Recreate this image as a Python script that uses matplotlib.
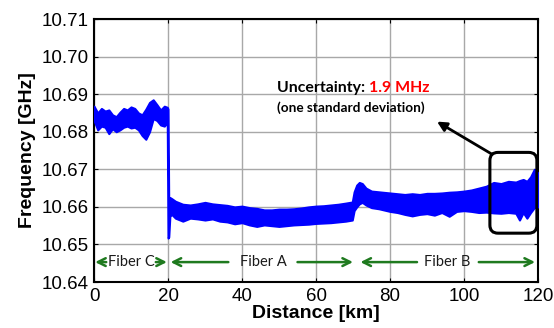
import matplotlib.pyplot as plt
from matplotlib.patches import FancyBboxPatch

km = [0, 1, 2, 3, 4, 5, 6, 7, 8, 9, 10, 11, 12, 13, 14, 15, 16, 17, 18, 19, 19.8,
      20.0, 20.2, 20.5, 21, 22, 24, 26, 28, 30, 32, 34, 36, 38, 40, 42, 44, 46, 48,
      50, 52, 54, 56, 58, 60, 62, 64, 66, 68, 69.8, 70.3, 71, 71.7, 72.5, 73.5, 75,
      77, 80, 82, 84, 86, 88, 90, 92, 94, 96, 98, 100, 102, 104, 106, 108, 110, 112,
      114, 115, 116, 117, 118, 119, 120]
upper = [10.6868, 10.6850, 10.6862, 10.6855, 10.6858, 10.6845, 10.6840, 10.6852,
         10.6862, 10.6858, 10.6866, 10.6862, 10.6850, 10.6845, 10.6860, 10.6878,
         10.6885, 10.6872, 10.6858, 10.6868, 10.6865,
         10.6860, 10.6600, 10.6625, 10.6622, 10.6615, 10.6607, 10.6605, 10.6608,
         10.6612, 10.6608, 10.6606, 10.6604, 10.6600, 10.6602, 10.6598, 10.6596,
         10.6592, 10.6592, 10.6594, 10.6594, 10.6595, 10.6597, 10.6600, 10.6602,
         10.6603, 10.6605, 10.6607, 10.6610, 10.6613, 10.6640, 10.6658, 10.6665,
         10.6662, 10.6650, 10.6642, 10.6640, 10.6637, 10.6635, 10.6633, 10.6635,
         10.6633, 10.6636, 10.6636, 10.6637, 10.6639, 10.6640, 10.6642, 10.6645,
         10.6650, 10.6655, 10.6665, 10.6662, 10.6668, 10.6666, 10.6670, 10.6673,
         10.6668, 10.6680, 10.6700, 10.6690]
lower = [10.6830, 10.6805, 10.6815, 10.6812, 10.6795, 10.6808, 10.6800, 10.6805,
         10.6812, 10.6815, 10.6810, 10.6812, 10.6805, 10.6790, 10.6780, 10.6800,
         10.6835, 10.6830, 10.6818, 10.6815, 10.6825,
         10.6517, 10.6520, 10.6575, 10.6580, 10.6570, 10.6562, 10.6570, 10.6568,
         10.6565, 10.6568, 10.6562, 10.6560, 10.6555, 10.6558, 10.6552, 10.6548,
         10.6552, 10.6550, 10.6548, 10.6550, 10.6552, 10.6553, 10.6554, 10.6556,
         10.6557, 10.6558, 10.6560, 10.6562, 10.6565, 10.6590, 10.6600, 10.6608,
         10.6612, 10.6605, 10.6598, 10.6595, 10.6588, 10.6585, 10.6580, 10.6576,
         10.6580, 10.6582, 10.6578, 10.6585, 10.6575, 10.6588, 10.6590, 10.6588,
         10.6585, 10.6586, 10.6584, 10.6583, 10.6585, 10.6583, 10.6565, 10.6585,
         10.6570, 10.6585, 10.6598, 10.6600]

xticks = [0, 20, 40, 60, 80, 100, 120]
yticks = [10.64, 10.65, 10.66, 10.67, 10.68, 10.69, 10.70, 10.71]

green = "#1f7a1f"

fig = plt.figure(figsize=(5.54, 3.28), dpi=100)
ax = fig.add_axes([0.1697, 0.1402, 0.8014, 0.8018])

ax.fill_between(km, lower, upper, color="#0000ff", linewidth=1.5, edgecolor="#0000ff", zorder=3)

ax.set_xlim(0, 120)
ax.set_ylim(10.64, 10.71)
ax.set_xticks(xticks)
ax.set_yticks(yticks)
ax.set_yticklabels(["%.2f" % v for v in yticks])
ax.tick_params(direction="in", length=3, top=True, right=True,
               labelsize=13.5, pad=4)
for lab in ax.get_xticklabels() + ax.get_yticklabels():
    lab.set_fontfamily("Liberation Sans")
ax.grid(True, color="#a8a8a8", linewidth=1)
ax.set_axisbelow(True)
for s in ax.spines.values():
    s.set_linewidth(1.5)

ax.set_xlabel("Distance [km]", fontsize=14, fontweight="bold",
              family="Liberation Sans", labelpad=0)
ax.set_ylabel("Frequency [GHz]", fontsize=14, fontweight="bold",
              family="Liberation Sans", labelpad=4)

# rounded box around the noisy end of fiber B
box = FancyBboxPatch((107, 10.653), 12.7, 0.0215,
                     boxstyle="round,pad=0,rounding_size=2.2",
                     mutation_aspect=0.000981, fill=False,
                     edgecolor="black", linewidth=2.2, zorder=5)
ax.add_patch(box)
ax.annotate("", xy=(92.7, 10.6827), xytext=(107.6, 10.674),
            arrowprops=dict(arrowstyle="-|>", color="black", lw=2,
                            mutation_scale=14, shrinkA=0, shrinkB=0), zorder=5)

t1 = ax.text(49.5, 10.6917, "Uncertainty: ", fontsize=11.4, fontweight="bold",
             family="Lato", va="center", ha="left", zorder=6)
ax.annotate("1.9 MHz", xy=(1, 0), xycoords=t1, va="bottom", ha="left",
            fontsize=11.4, fontweight="bold", family="Lato", color="#ff0000", zorder=6)
ax.text(49.5, 10.6864, "(one standard deviation)", fontsize=9.8, fontweight="bold",
        family="Lato", va="center", ha="left", zorder=6)

# fiber span arrows
fy = 10.6453
arrows = [(3.3, 0.3), (16.7, 19.7), (36.3, 20.7), (55, 70), (87.3, 72), (104, 119.2)]
for start, end in arrows:
    ax.annotate("", xy=(end, fy), xytext=(start, fy),
                arrowprops=dict(arrowstyle="->", color=green, lw=1.8,
                                mutation_scale=14, shrinkA=0, shrinkB=0))
for x, name in [(10, "Fiber C"), (45.7, "Fiber A"), (95.5, "Fiber B")]:
    ax.text(x, fy, name, fontsize=10.5, family="Lato", ha="center", va="center",
            color="#1a1a1a")

fig.savefig("out.png", dpi=100)
